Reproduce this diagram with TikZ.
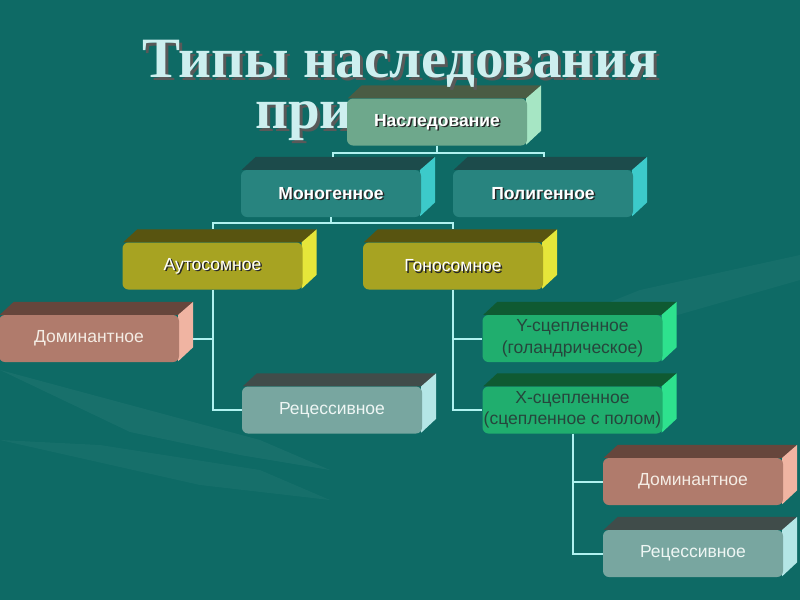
\documentclass[tikz,border=0pt]{standalone}
\usepackage{fontspec}
\setmainfont{Liberation Sans}
\newfontfamily\titlefont{Liberation Serif}
\usetikzlibrary{calc,backgrounds}
\definecolor{bgcol}{HTML}{0E6A65}
\definecolor{linecol}{HTML}{B0F2F0}
\definecolor{titlecol}{HTML}{CDEFEF}
\definecolor{naslF}{HTML}{6EA88C}\definecolor{naslT}{HTML}{4A5C44}\definecolor{naslS}{HTML}{A6E6C4}
\definecolor{tealF}{HTML}{28847F}\definecolor{tealT}{HTML}{1C4B4B}\definecolor{tealS}{HTML}{3CCACA}
\definecolor{oliveF}{HTML}{A7A322}\definecolor{oliveT}{HTML}{585410}\definecolor{oliveS}{HTML}{E6E63A}
\definecolor{domF}{HTML}{B07B6C}\definecolor{domT}{HTML}{66463C}\definecolor{domS}{HTML}{F0B4A2}
\definecolor{recF}{HTML}{78A6A0}\definecolor{recT}{HTML}{404C4A}\definecolor{recS}{HTML}{B4E6E6}
\definecolor{grnF}{HTML}{20AE6E}\definecolor{grnT}{HTML}{0F5A32}\definecolor{grnS}{HTML}{2EE28E}
\newcommand\shadowed[1]{\makebox[0pt][l]{\kern1.5pt\raisebox{-1.5pt}[0pt][0pt]{\color{black!85}#1}}#1}
\newcommand\bigshadow[1]{\makebox[0pt][l]{\kern3pt\raisebox{-3pt}[0pt][0pt]{\color{black!65}#1}}#1}
\newcommand\cuboid[7]{%
  \node[boxfront, fill=#3, #6] (#1) at #2 {#7};
  \begin{scope}[on background layer]
    \fill[#4] ($(#1.north west)+(1,0)$) -- ++(14,-13) -- ($(#1.north east)+(14,-13)$) -- (#1.north east) -- cycle;
    \fill[#5] ($(#1.north east)+(-1,0)$) -- ($(#1.north east)+(14,-13)$) -- ($(#1.south east)+(14,-15)$) -- ($(#1.south east)+(-1,-1)$) -- cycle;
  \end{scope}}
\tikzset{
  boxfront/.style={rounded corners=6pt, minimum width=180pt, minimum height=47pt, inner sep=0pt, align=center},
  boldtxt/.style={text=white, font=\bfseries\fontsize{17.5}{21}\selectfont},
  regtxt/.style={text=white, font=\fontsize{17.5}{21}\selectfont},
  domtxt/.style={text={rgb,255:red,244;green,236;blue,228}, font=\fontsize{17.5}{21}\selectfont},
  rectxt/.style={text={rgb,255:red,238;green,246;blue,244}, font=\fontsize{17.5}{21}\selectfont},
  grntxt/.style={text={rgb,255:red,38;green,70;blue,60}, font=\fontsize{17.5}{21.5}\selectfont},
  conn/.style={draw=linecol, line width=2pt},
  titletxt/.style={text=titlecol, font=\titlefont\bfseries\fontsize{57}{64}\selectfont, inner sep=0pt}
}
\begin{document}
\begin{tikzpicture}[x=1pt,y=-1pt]
  \begin{scope}[on background layer]
    \fill[bgcol] (0,0) rectangle (800,600);
    \fill[white, opacity=0.045] (0,370) -- (130,432) -- (240,455) -- (330,470) -- (260,440) -- (130,405) -- cycle;
    \fill[white, opacity=0.035] (0,440) -- (200,485) -- (330,500) -- (260,470) -- (100,445) -- cycle;
    \fill[white, opacity=0.035] (540,330) -- (640,290) -- (800,255) -- (800,280) -- (660,320) -- cycle;
  \end{scope}
  \useasboundingbox (0,0) rectangle (800,600);
  % title
  \node[titletxt, anchor=base] (t1) at (400,77) {\bigshadow{Типы наследования}};
  \node[titletxt, anchor=base west] (t2) at (255,128) {\bigshadow{при}};
  % boxes
  \cuboid{nasl}{(437,122)}{naslF}{naslT}{naslS}{boldtxt}{\shadowed{Наследование}}
  \cuboid{mono}{(331,193.5)}{tealF}{tealT}{tealS}{boldtxt}{\shadowed{Моногенное}}
  \cuboid{poly}{(543,193.5)}{tealF}{tealT}{tealS}{boldtxt}{\shadowed{Полигенное}}
  \cuboid{auto}{(212.5,266)}{oliveF}{oliveT}{oliveS}{regtxt}{\shadowed{Аутосомное}}
  \cuboid{gono}{(453,266)}{oliveF}{oliveT}{oliveS}{regtxt}{\shadowed{Гоносомное}}
  \cuboid{domL}{(89,338.5)}{domF}{domT}{domS}{domtxt}{Доминантное}
  \cuboid{recL}{(332,410)}{recF}{recT}{recS}{rectxt}{Рецессивное}
  \cuboid{ylink}{(572.5,338.5)}{grnF}{grnT}{grnS}{grntxt}{Y-сцепленное\\(голандрическое)}
  \cuboid{xlink}{(572.5,410)}{grnF}{grnT}{grnS}{grntxt}{X-сцепленное\\(сцепленное с полом)}
  \cuboid{domR}{(693,481.5)}{domF}{domT}{domS}{domtxt}{Доминантное}
  \cuboid{recR}{(693,553.5)}{recF}{recT}{recS}{rectxt}{Рецессивное}
  % connectors
  \coordinate (monoTop) at ($(mono.north)+(2,-13)$);
  \coordinate (polyTop) at ($(poly.north)+(1,-13)$);
  \coordinate (autoTop) at ($(auto.north)+(0,-13)$);
  \coordinate (gonoTop) at ($(gono.north)+(0,-13)$);
  \coordinate (domLside) at ($(domL.east)+(14,0)$);
  \draw[conn] (nasl.south) -- ++(0,7) -| (monoTop);
  \draw[conn] (nasl.south) ++(0,7) -| (polyTop);
  \draw[conn] (mono.south) -- ++(0,6) -| (autoTop);
  \draw[conn] (mono.south) ++(0,6) -| (gonoTop);
  \draw[conn] (auto.south) |- (recL.west);
  \draw[conn] (auto.south |- domLside) -- (domLside);
  \draw[conn] (gono.south) |- (xlink.west);
  \draw[conn] (gono.south |- ylink.west) -- (ylink.west);
  \draw[conn] (xlink.south) |- (recR.west);
  \draw[conn] (xlink.south |- domR.west) -- (domR.west);
\end{tikzpicture}
\end{document}
